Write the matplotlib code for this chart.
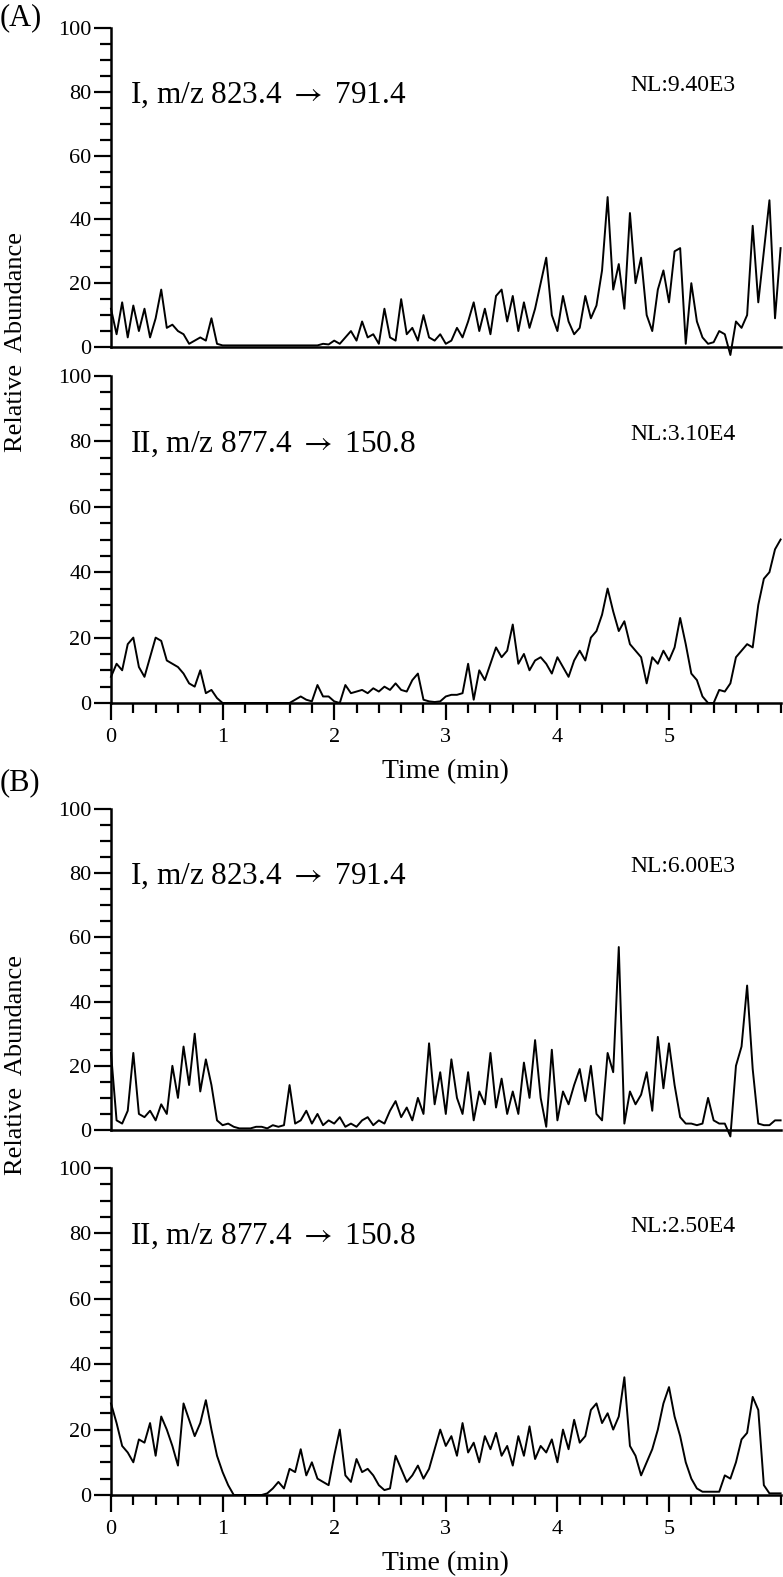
import numpy as np
import matplotlib
matplotlib.use("Agg")
from matplotlib import pyplot as plt
from matplotlib.ticker import MultipleLocator

plt.rcParams['font.family'] = ['Liberation Serif', 'DejaVu Serif']
plt.rcParams['mathtext.fontset'] = 'stix'

# relative abundance (%), one value every 0.05 min from 0 to 6.0
a1_vals = [12, 4, 14, 3, 13, 5, 12, 3, 9, 18, 6, 7, 5, 4, 1, 2, 3, 2, 9, 1,
           0.5, 0.5, 0.5, 0.5, 0.5, 0.5, 0.5, 0.5, 0.5, 0.5, 0.5, 0.5, 0.5, 0.5, 0.5, 0.5, 0.5, 0.5, 1, 0.8,
           2, 1, 3, 5, 2, 8, 3, 4, 1, 12, 3, 2, 15, 4, 6, 2, 10, 3, 2, 4,
           1, 2, 6, 3, 8, 14, 5, 12, 4, 16, 18, 8, 16, 5, 14, 6, 12, 20, 28, 10,
           5, 16, 8, 4, 6, 16, 9, 13, 24, 47, 18, 26, 12, 42, 20, 28, 10, 5, 18, 24,
           14, 30, 31, 1, 20, 8, 3, 1, 1.5, 5, 4, -2.5, 8, 6, 10, 38, 14, 30, 46, 9,
           31]
a2_vals = [8, 12, 10, 18, 20, 11, 8, 14, 20, 19, 13, 12, 11, 9, 6, 5, 10, 3, 4, 1.5,
           0, 0, 0, 0, 0, 0, 0, 0, 0, 0, 0, 0, 0, 1, 2, 1, 0.5, 5.5, 2, 2,
           0.5, 0, 5.5, 3, 3.5, 4, 3, 4.5, 3.5, 5, 4, 6, 4, 3.5, 7, 9, 1, 0.5, 0.3, 0.5,
           2, 2.5, 2.5, 3, 12, 1, 10, 7, 12, 17, 14, 16, 24, 12, 15, 10, 13, 14, 12, 9,
           14, 11, 8, 13, 16, 13, 20, 22, 27, 35, 28, 22, 25, 18, 16, 14, 6, 14, 12, 16,
           13, 17, 26, 18, 9, 7, 2, 0, 0, 4, 3.5, 6, 14, 16, 18, 17, 30, 38, 40, 47,
           50]
b1_vals = [24, 3, 2, 6, 24, 5, 4, 6, 3, 8, 5, 20, 10, 26, 14, 30, 12, 22, 14, 3,
           1.5, 2, 1, 0.5, 0.5, 0.5, 1, 1, 0.5, 1.5, 1, 1.5, 14, 2, 3, 6, 2, 5, 1.5, 3,
           2, 4, 1, 2, 1, 3, 4, 1.5, 3, 2, 6, 9, 4, 7, 3, 10, 5, 27, 8, 18,
           5, 22, 10, 5, 18, 3, 12, 8, 24, 7, 16, 5, 12, 5, 21, 10, 28, 10, 1, 25,
           3, 12, 8, 14, 19, 9, 20, 5, 3, 24, 18, 57, 2, 12, 8, 11, 18, 6, 29, 13,
           27, 14, 4, 2, 2, 1.5, 2, 10, 3, 2, 2, -2, 20, 26, 45, 19, 2, 1.5, 1.5, 3,
           3]
b2_vals = [28, 22, 15, 13, 10, 17, 16, 22, 12, 24, 20, 15, 9, 28, 23, 18, 22, 29, 20, 12,
           7, 3, 0, 0, 0, 0, 0, 0, 0.5, 2, 4, 2, 8, 7, 14, 6, 10, 5, 4, 3,
           12, 20, 6, 4, 11, 7, 8, 6, 3, 1.5, 2, 12, 8, 4, 6, 9, 5, 8, 14, 20,
           15, 18, 12, 22, 13, 16, 10, 18, 14, 19, 12, 15, 9, 18, 12, 21, 11, 15, 13, 17,
           10, 20, 14, 23, 16, 18, 26, 28, 22, 25, 20, 24, 36, 15, 12, 6, 10, 14, 20, 28,
           33, 24, 18, 10, 5, 2, 1, 1, 1, 1, 6, 5, 10, 17, 19, 30, 26, 3, 0.5, 0.5,
           0.5]

panel_labels = ['(A)', '(B)']
trace_names = ['I, m/z 823.4 $\\rightarrow$ 791.4', 'II, m/z 877.4 $\\rightarrow$ 150.8',
               'I, m/z 823.4 $\\rightarrow$ 791.4', 'II, m/z 877.4 $\\rightarrow$ 150.8']
nl_labels = ['NL:9.40E3', 'NL:3.10E4', 'NL:6.00E3', 'NL:2.50E4']
x_ticks = [0, 1, 2, 3, 4, 5]

W, H = 783, 1577
fig = plt.figure(figsize=(W / 100, H / 100), dpi=100)


def px_rect(x0, top, x1, bottom):
    return [x0 / W, 1 - bottom / H, (x1 - x0) / W, (bottom - top) / H]


x_left, x_right = 111, 780.6
panel_px = [(28, 347), (376, 703), (809, 1130), (1168, 1495)]
traces = [a1_vals, a2_vals, b1_vals, b2_vals]

for i, (top, bottom) in enumerate(panel_px):
    ax = fig.add_axes(px_rect(x_left, top, x_right, bottom))
    vals = traces[i]
    t = np.arange(len(vals)) * 0.05
    ax.plot(t, vals, color='black', lw=1.4, clip_on=False)
    ax.set_xlim(0, 6.0)
    ax.set_ylim(0, 100)
    for s in ['top', 'right']:
        ax.spines[s].set_visible(False)
    for s in ['left', 'bottom']:
        ax.spines[s].set_linewidth(1.8)
    ax.set_yticks([0, 20, 40, 60, 80, 100])
    ax.yaxis.set_minor_locator(MultipleLocator(5))
    ax.tick_params(axis='y', which='major', direction='out', length=12, width=1.6,
                   labelsize=16, pad=2)
    ax.tick_params(axis='y', which='minor', direction='out', length=8, width=1.6)
    if i % 2 == 1:
        ax.set_xticks(x_ticks)
        ax.xaxis.set_minor_locator(MultipleLocator(0.2))
        ax.tick_params(axis='x', which='major', direction='out', length=12, width=1.6,
                       labelsize=16, pad=6)
        ax.tick_params(axis='x', which='minor', direction='out', length=7, width=1.6)
        ax.set_xlabel('Time (min)', fontsize=20, labelpad=9)
    else:
        ax.tick_params(axis='x', which='both', bottom=False, labelbottom=False)
    ax.text(0.17, 79, trace_names[i], fontsize=22.5, va='center', ha='left')
    ax.text(4.65, 82, nl_labels[i], fontsize=17, va='center', ha='left')

fig.text(0 / W, 1 - 18 / H, panel_labels[0], fontsize=22, va='center', ha='left')
fig.text(0 / W, 1 - 783 / H, panel_labels[1], fontsize=22, va='center', ha='left')
fig.text(16 / W, 1 - 342 / H, 'Relative  Abundance', fontsize=19, rotation=90,
         va='center', ha='center')
fig.text(16 / W, 1 - 1065 / H, 'Relative  Abundance', fontsize=19, rotation=90,
         va='center', ha='center')

plt.savefig('out.png', dpi=100)
